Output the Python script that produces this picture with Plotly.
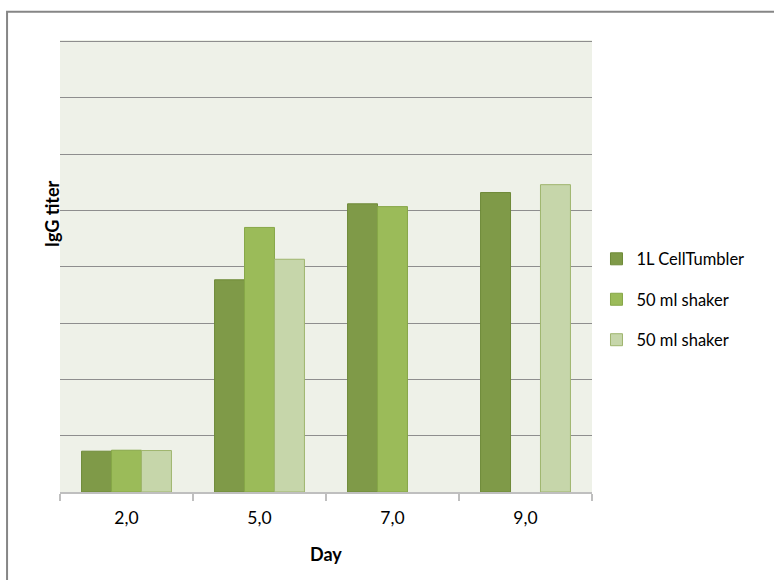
import plotly.graph_objects as go

# IgG titer by culture day for the three culture systems
days = ["2,0", "5,0", "7,0", "9,0"]
cell_tumbler = [0.725, 3.77, 5.12, 5.32]
shaker_a = [0.742, 4.70, 5.07, None]
shaker_b = [0.737, 4.135, None, 5.46]

series_names = ["1L CellTumbler", "50 ml shaker", "50 ml shaker"]
fill_colors = ["#7F9A48", "#9BBB59", "#C6D6AA"]
edge_colors = ["#6E8A38", "#87A748", "#9FB56E"]

# y range runs a hair past the last gridline so that line is still drawn
Y_MAX, Y_TOP = 8, 8.03

W, H = 774, 580
L, R, B = 60, 181.5, 87.5
unit_px = 450.5 / Y_MAX
T = 42 - (Y_TOP - Y_MAX) * unit_px
pw, ph = W - L - R, H - T - B

def px_x(x):
    return (x - L) / pw

def px_y(y):
    return (H - B - y) / ph

FONT = "Lato, 'Open Sans', sans-serif"

fig = go.Figure()
for i, vals in enumerate([cell_tumbler, shaker_a, shaker_b]):
    fig.add_trace(go.Bar(
        x=days, y=vals, name=series_names[i],
        marker=dict(color=fill_colors[i], line=dict(color=edge_colors[i], width=1)),
        legendgroup=f"g{i}",
    ))

fig.update_layout(
    width=W, height=H,
    margin=dict(l=L, r=R, t=T, b=B),
    paper_bgcolor="white",
    plot_bgcolor="#EEF1E8",
    barmode="group",
    bargap=0.324,
    bargroupgap=0,
    font=dict(family=FONT, size=16, color="#000000"),
    showlegend=True,
    legend=dict(
        x=px_x(597), xanchor="left",
        y=px_y(300), yanchor="middle",
        font=dict(family=FONT, size=16.5, color="#000000"),
        tracegroupgap=16,
        traceorder="grouped",
        bgcolor="rgba(0,0,0,0)",
        itemclick=False,
    ),
    xaxis=dict(
        type="category",
        showline=True, linecolor="#BFBFBF", linewidth=1.5,
        ticks="outside", tickson="boundaries", ticklen=7,
        tickcolor="#BFBFBF", tickwidth=1.5,
        ticklabelstandoff=9,
        tickfont=dict(family=FONT, size=17.5, color="#000000"),
        showgrid=False,
    ),
    yaxis=dict(
        range=[0, Y_TOP], tick0=0, dtick=1,
        showticklabels=False, ticks="",
        showgrid=True, gridcolor="#8E8E8E", gridwidth=1,
        zeroline=False, showline=False,
    ),
    annotations=[
        dict(text="<b>IgG titer</b>", textangle=-90,
             x=px_x(38.5), y=px_y(214), xref="paper", yref="paper",
             showarrow=False, font=dict(family=FONT, size=18, color="#000000")),
        dict(text="<b>Day</b>",
             x=px_x(326), y=px_y(568), xref="paper", yref="paper",
             showarrow=False, font=dict(family=FONT, size=18, color="#000000")),
    ],
    shapes=[
        dict(type="rect", xref="paper", yref="paper",
             x0=px_x(7), y0=px_y(12), x1=px_x(W + 20), y1=px_y(H + 20),
             line=dict(color="#868686", width=2), fillcolor="rgba(0,0,0,0)",
             layer="above"),
    ],
)

fig.write_html("out.html")
